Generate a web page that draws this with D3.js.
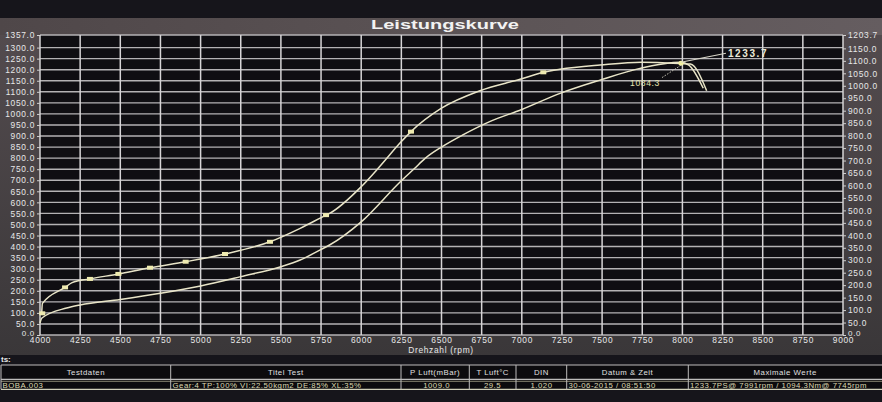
<!DOCTYPE html>
<html><head><meta charset="utf-8">
<script src="https://cdn.jsdelivr.net/npm/d3@7"></script>
<style>
html,body{margin:0;padding:0;background:#16151b;}
svg{display:block;}
text{font-family:"Liberation Sans",Arial,sans-serif;}
</style></head>
<body>
<svg id="c" width="882" height="402"></svg>
<script>
// ---- data ----
const title = "Leistungskurve";
const xLabel = "Drehzahl (rpm)";
const rpmTicks = [4000,4250,4500,4750,5000,5250,5500,5750,6000,6250,6500,6750,7000,7250,7500,7750,8000,8250,8500,8750,9000];
const leftMax = 1357.0;
const rightMax = 1203.7;

// power curve (PS, left axis)
const powerRpm = [4000,4012,4166,4250,4500,4750,5000,5250,5500,5620,5745,5803,6000,6250,6330,6400,6500,6633,6800,7000,7238,7487,7736,7991,8040,8130];
const powerVal = [54,77,122,136,161,189,222,264,309,339,385,407,512,698,752,800,850,905,965,1020,1093,1153,1206,1233.7,1221,1116];

// torque curve (Nm, right axis)
const torqueRpm = [4010,4015,4156,4200,4311,4488,4685,4907,5152,5432,5620,5781,5803,6000,6114,6250,6310,6500,6739,6989,7134,7238,7487,7745,7991,8050,8151];
const torqueVal = [80,127,191,210,225,245,270,294,325,374,428,481,488,595,675,776,816,910,980,1026,1054,1066,1083,1094.3,1089,1087,980];

// markers on torque curve
const markerRpm = [4014,4156,4311,4488,4685,4907,5152,5432,5781,6310,7134];
const markerVal = [87,191,225,245,270,294,325,374,481,816,1054];

const powerPeakLabel = "1233.7";
const torquePeakLabel = "1084.3";

const tableHeaders = ["Testdaten","Titel Test","P Luft(mBar)","T Luft°C","DIN","Datum & Zeit","Maximale Werte"];
const tableValues = ["BOBA.003","Gear:4 TP:100% VI:22.50kgm2 DE:85% XL:35%","1009.0","29.5","1.020","30-06-2015 / 08:51:50","1233.7PS@ 7991rpm / 1094.3Nm@ 7745rpm"];

// ---- layout ----
const svg = d3.select("#c");
const W = 882, H = 402;
const P = {l:40, r:843, t:35, b:335};

const x = d3.scaleLinear().domain([4000,9000]).range([P.l,P.r]);
const yL = d3.scaleLinear().domain([0,leftMax]).range([P.b,P.t]);
const yR = d3.scaleLinear().domain([0,rightMax]).range([P.b,P.t]);

const defs = svg.append("defs");
const g1 = defs.append("linearGradient").attr("id","panel").attr("x1",0).attr("y1",0).attr("x2",0).attr("y2",1);
g1.append("stop").attr("offset","0%").attr("stop-color","#544c4f");
g1.append("stop").attr("offset","100%").attr("stop-color","#3a3739");
const g2 = defs.append("linearGradient").attr("id","hdr").attr("x1",0).attr("y1",0).attr("x2",1).attr("y2",0);
g2.append("stop").attr("offset","0%").attr("stop-color","#4f4749");
g2.append("stop").attr("offset","60%").attr("stop-color","#5d5557");
g2.append("stop").attr("offset","100%").attr("stop-color","#655d60");

// backgrounds
svg.append("rect").attr("width",W).attr("height",H).attr("fill","#16151b");
svg.append("rect").attr("x",0).attr("y",18).attr("width",W).attr("height",337).attr("fill","url(#panel)");
svg.append("rect").attr("x",0).attr("y",18).attr("width",W).attr("height",P.t-18).attr("fill","url(#hdr)");
svg.append("rect").attr("x",P.l).attr("y",P.t).attr("width",P.r-P.l).attr("height",P.b-P.t).attr("fill","#0f0e12");

// title
svg.append("text").attr("x",445).attr("y",29).attr("text-anchor","middle")
  .attr("font-size",12.5).attr("font-weight","bold").attr("fill","#f2f2f2")
  .attr("textLength",148).attr("lengthAdjust","spacingAndGlyphs").text(title);

// grid
const leftTicks = d3.range(0, leftMax, 50).filter(d => leftMax - d >= 20);
const rightTicks = d3.range(0, rightMax, 50).filter(d => rightMax - d >= 20);
const grid = svg.append("g");
grid.selectAll("line.h").data(leftTicks.concat([leftMax])).join("line")
  .attr("x1",P.l).attr("x2",P.r).attr("y1",d=>yL(d)).attr("y2",d=>yL(d))
  .attr("stroke","#b4b2b4").attr("stroke-width",1.4);
grid.selectAll("line.v").data(rpmTicks).join("line")
  .attr("x1",d=>x(d)).attr("x2",d=>x(d)).attr("y1",P.t).attr("y2",P.b)
  .attr("stroke","#d6d4d6").attr("stroke-width",1.5);

// axes
const fmt = d3.format(".1f");
const axL = d3.axisLeft(yL).tickValues(leftTicks.concat([leftMax])).tickFormat(fmt).tickSize(3).tickPadding(2);
const axR = d3.axisRight(yR).tickValues(rightTicks.concat([rightMax])).tickFormat(fmt).tickSize(3).tickPadding(2);
const axB = d3.axisBottom(x).tickValues(rpmTicks).tickFormat(d3.format("d")).tickSize(0).tickPadding(2);
function styleAx(g){
  g.select(".domain").remove();
  g.selectAll(".tick line").attr("stroke","#d0d0d0");
  g.selectAll(".tick text").attr("fill","#e8e8e8").attr("font-size",8.4).attr("letter-spacing","0.7px")
    .style("font-family","'Liberation Sans',Arial,sans-serif");
}
const gL = svg.append("g").attr("transform",`translate(${P.l},0)`).call(axL).call(styleAx);
const gR = svg.append("g").attr("transform",`translate(${P.r},0)`).call(axR).call(styleAx);
svg.append("g").attr("transform",`translate(0,${P.b})`).call(axB).call(styleAx);
// lift the bottom "0.0" labels a little, as in the original
gL.selectAll(".tick").filter(d=>d===0).select("text").attr("dy","0.04em").attr("font-size",8);
gR.selectAll(".tick").filter(d=>d===0).select("text").attr("dy","0.04em").attr("font-size",8);

svg.append("text").attr("x",441).attr("y",353).attr("text-anchor","middle")
  .attr("font-size",8.4).attr("letter-spacing","0.7px").attr("fill","#e8e8e8").text(xLabel);

// curves
const lineCol = "#e9e5c8";
const powerData = powerRpm.map((r,i)=>[r,powerVal[i]]);
const torqueData = torqueRpm.map((r,i)=>[r,torqueVal[i]]);
const lp = d3.line().x(d=>x(d[0])).y(d=>yL(d[1])).curve(d3.curveMonotoneX);
const lt = d3.line().x(d=>x(d[0])).y(d=>yR(d[1])).curve(d3.curveMonotoneX);
svg.append("path").datum(powerData).attr("d",lp).attr("fill","none").attr("stroke",lineCol).attr("stroke-width",1.5);
svg.append("path").datum(torqueData).attr("d",lt).attr("fill","none").attr("stroke",lineCol).attr("stroke-width",1.5);

// markers
svg.selectAll("rect.mk").data(markerRpm.map((r,i)=>[r,markerVal[i]])).join("rect")
  .attr("x",d=>x(d[0])-3).attr("y",d=>yR(d[1])-2).attr("width",6).attr("height",4)
  .attr("fill","#eeeab0");

// peak annotations
const pk = powerRpm[powerVal.indexOf(d3.max(powerVal))];
const pkX = x(pk), pkY = yL(d3.max(powerVal));
svg.append("circle").attr("cx",pkX).attr("cy",pkY+1).attr("r",2.5).attr("fill","#f2f0a0");
svg.append("line").attr("x1",pkX).attr("y1",pkY).attr("x2",pkX+45).attr("y2",pkY-9)
  .attr("stroke","#d8d6c8").attr("stroke-width",1.2);
svg.append("text").attr("x",pkX+47).attr("y",pkY-5).attr("font-size",10).attr("letter-spacing","1.6px")
  .attr("fill","#ecead8").attr("font-weight","bold").text(powerPeakLabel);
svg.append("line").attr("x1",pkX).attr("y1",pkY+3).attr("x2",pkX-20).attr("y2",pkY+16)
  .attr("stroke","#c8c6b8").attr("stroke-width",1).attr("stroke-dasharray","1.5,1.5");
svg.append("text").attr("x",pkX-21).attr("y",pkY+24).attr("text-anchor","end").attr("font-size",8.6)
  .attr("letter-spacing","0.6px").attr("fill","#e6e4b0").text(torquePeakLabel);

// table
svg.append("text").attr("x",1).attr("y",362).attr("font-size",8).attr("font-weight","bold")
  .attr("fill","#e8e8e8").text("ts:");
const colX = [1,170.7,401,469.3,516,566.7,688.3,882];
const tY0 = 365, tY1 = 379.3, tY2 = 389.3;
const tb = svg.append("g");
tb.append("rect").attr("x",1).attr("y",tY0).attr("width",W-1).attr("height",tY2-tY0)
  .attr("fill","#0c0b0e");
tb.append("line").attr("x1",1).attr("x2",W).attr("y1",tY0).attr("y2",tY0).attr("stroke","#bdbcbc").attr("stroke-width",1.2);
tb.append("line").attr("x1",1).attr("x2",W).attr("y1",tY1).attr("y2",tY1).attr("stroke","#bdbcbc").attr("stroke-width",1.2);
tb.append("line").attr("x1",1).attr("x2",W).attr("y1",tY1+2).attr("y2",tY1+2).attr("stroke","#a8a68a").attr("stroke-width",0.8);
tb.append("line").attr("x1",1).attr("x2",W).attr("y1",tY2).attr("y2",tY2).attr("stroke","#d0cfb8").attr("stroke-width",1.2);
tb.selectAll("line.c").data(colX.slice(0,-1)).join("line")
  .attr("x1",d=>d).attr("x2",d=>d).attr("y1",tY0).attr("y2",tY2).attr("stroke","#bdbcbc").attr("stroke-width",1);
tb.selectAll("text.h").data(tableHeaders).join("text")
  .attr("x",(d,i)=>(colX[i]+colX[i+1])/2).attr("y",tY0+9.5).attr("text-anchor","middle")
  .attr("font-size",7.8).attr("letter-spacing","0.5px").attr("fill","#e0e0e0").text(d=>d);
const valAnchor = ["start","start","end","middle","middle","start","start"];
const valX = [2.5,172.5,450,492.5,541.5,568.5,690];
tb.selectAll("text.v").data(tableValues).join("text")
  .attr("x",(d,i)=>valX[i]).attr("y",tY1+8.5).attr("text-anchor",(d,i)=>valAnchor[i])
  .attr("font-size",7.8).attr("letter-spacing","0.5px").attr("fill","#dcd9b2").text(d=>d);
</script>
</body></html>
